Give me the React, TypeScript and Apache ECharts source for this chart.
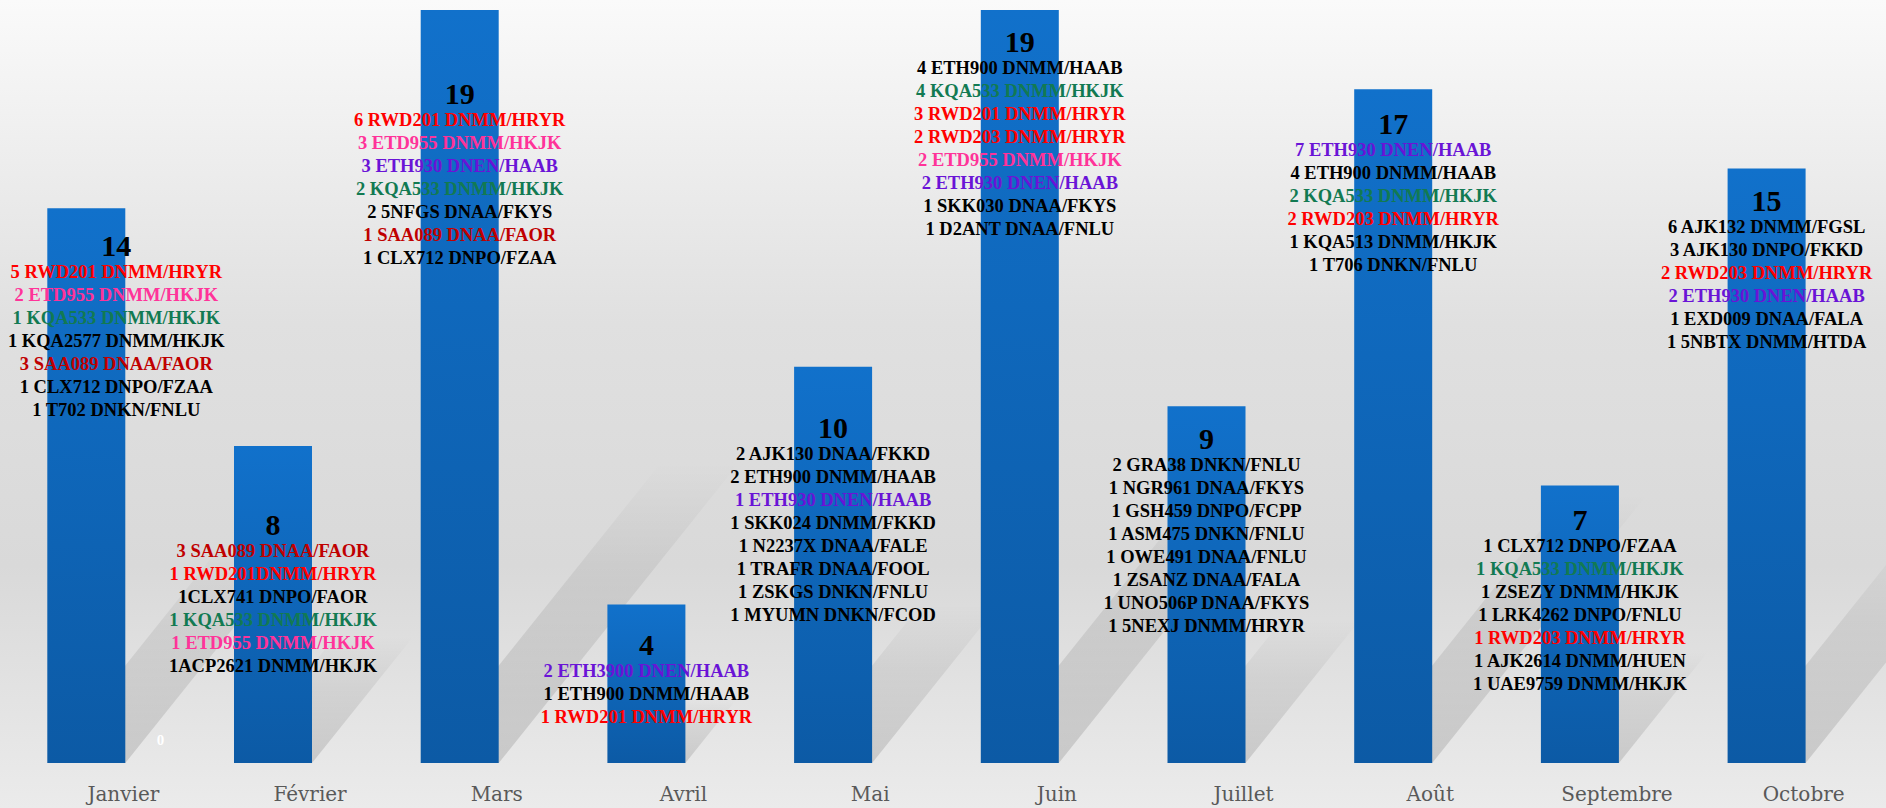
import React, { useEffect, useRef } from "react";
import * as echarts from "echarts";

const categories = ["Janvier", "Février", "Mars", "Avril", "Mai", "Juin", "Juillet", "Août", "Septembre", "Octobre"];
const values = [14, 8, 19, 4, 10, 19, 9, 17, 7, 15];
// second (empty) series: only a 0 for Janvier
const values2 = [0, null, null, null, null, null, null, null, null, null];

const flightsJanvier = ["5 RWD201 DNMM/HRYR", "2 ETD955 DNMM/HKJK", "1 KQA533 DNMM/HKJK", "1 KQA2577 DNMM/HKJK", "3 SAA089 DNAA/FAOR", "1 CLX712 DNPO/FZAA", "1 T702 DNKN/FNLU"];
const flightsFevrier = ["3 SAA089 DNAA/FAOR", "1 RWD201DNMM/HRYR", "1CLX741 DNPO/FAOR", "1 KQA533 DNMM/HKJK", "1 ETD955 DNMM/HKJK", "1ACP2621 DNMM/HKJK"];
const flightsMars = ["6 RWD201 DNMM/HRYR", "3 ETD955 DNMM/HKJK", "3 ETH930 DNEN/HAAB", "2 KQA533 DNMM/HKJK", "2 5NFGS DNAA/FKYS", "1 SAA089 DNAA/FAOR", "1 CLX712 DNPO/FZAA"];
const flightsAvril = ["2 ETH3900 DNEN/HAAB", "1 ETH900 DNMM/HAAB", "1 RWD201 DNMM/HRYR"];
const flightsMai = ["2 AJK130 DNAA/FKKD", "2 ETH900 DNMM/HAAB", "1 ETH930 DNEN/HAAB", "1 SKK024 DNMM/FKKD", "1 N2237X DNAA/FALE", "1 TRAFR DNAA/FOOL", "1 ZSKGS DNKN/FNLU", "1 MYUMN DNKN/FCOD"];
const flightsJuin = ["4 ETH900 DNMM/HAAB", "4 KQA533 DNMM/HKJK", "3 RWD201 DNMM/HRYR", "2 RWD203 DNMM/HRYR", "2 ETD955 DNMM/HKJK", "2 ETH930 DNEN/HAAB", "1 SKK030 DNAA/FKYS", "1 D2ANT DNAA/FNLU"];
const flightsJuillet = ["2 GRA38 DNKN/FNLU", "1 NGR961 DNAA/FKYS", "1 GSH459 DNPO/FCPP", "1 ASM475 DNKN/FNLU", "1 OWE491 DNAA/FNLU", "1 ZSANZ DNAA/FALA", "1 UNO506P DNAA/FKYS", "1 5NEXJ DNMM/HRYR"];
const flightsAout = ["7 ETH930 DNEN/HAAB", "4 ETH900 DNMM/HAAB", "2 KQA533 DNMM/HKJK", "2 RWD203 DNMM/HRYR", "1 KQA513 DNMM/HKJK", "1 T706 DNKN/FNLU"];
const flightsSeptembre = ["1 CLX712 DNPO/FZAA", "1 KQA533 DNMM/HKJK", "1 ZSEZY DNMM/HKJK", "1 LRK4262 DNPO/FNLU", "1 RWD203 DNMM/HRYR", "1 AJK2614 DNMM/HUEN", "1 UAE9759 DNMM/HKJK"];
const flightsOctobre = ["6 AJK132 DNMM/FGSL", "3 AJK130 DNPO/FKKD", "2 RWD203 DNMM/HRYR", "2 ETH930 DNEN/HAAB", "1 EXD009 DNAA/FALA", "1 5NBTX DNMM/HTDA"];

const flights = [flightsJanvier, flightsFevrier, flightsMars, flightsAvril, flightsMai, flightsJuin, flightsJuillet, flightsAout, flightsSeptembre, flightsOctobre];

// layout (not data): label vertical offset from bar top, horizontal nudge
const labelTop = [22, 64, 68, 25, 46, 16, 17, 19, 19, 17];
const labelDx = [30, 0, 0, 0, 0, 0, 0, 0, 0, 0];

const styleKey = (line: string) => {
  if (line.includes("RWD")) return "r";
  if (line.includes("SAA089")) return "dr";
  if (line.includes("ETD955")) return "pk";
  if (line.includes("KQA533")) return "g";
  if (line.includes("ETH930") || line.includes("ETH3900")) return "pu";
  return "k";
};

const lineStyle = (color: string) => ({
  color,
  fontFamily: "'Liberation Serif', 'DejaVu Serif', serif",
  fontWeight: "bold",
  fontSize: 18.5,
  lineHeight: 23,
  align: "center",
});

export default function App() {
  const ref = useRef<HTMLDivElement>(null);
  useEffect(() => {
    document.body.style.margin = "0";
    const chart = echarts.init(ref.current!, null, { renderer: "svg" });
    const W = 1886;
    const H = 808;
    const option: any = {
      animation: false,
      graphic: [
        {
          type: "rect",
          z: -10,
          silent: true,
          shape: { x: 0, y: 0, width: W, height: H },
          style: {
            fill: new echarts.graphic.LinearGradient(0, 0, 0, 1, [
              { offset: 0, color: "#fafafa" },
              { offset: 0.4, color: "#e0e0e0" },
              { offset: 0.7, color: "#d9d9d9" },
              { offset: 1, color: "#ebebeb" },
            ]),
          },
        },
      ],
      grid: { left: 30, right: -11, top: 10, bottom: 45, containLabel: false, outerBoundsMode: "none" },
      xAxis: {
        type: "category",
        data: categories,
        axisLine: { show: false },
        axisTick: { show: false },
        axisLabel: {
          color: "#595959",
          fontFamily: "'DejaVu Serif', serif",
          fontSize: 20,
          margin: 21,
        },
      },
      yAxis: { type: "value", min: 0, max: 19, show: false, splitLine: { show: false } },
      series: [
        {
          type: "custom",
          z: 1,
          silent: true,
          data: values.map((v, i) => [i, v]),
          renderItem: (params: any, api: any) => {
            const i = api.value(0);
            const v = api.value(1);
            const base = api.coord([i, 0]);
            const top = api.coord([i, v]);
            const h = base[1] - top[1];
            const hw = 39;
            const cx = base[0] - 37;
            const sh = h * 0.4;
            const dx = sh * 0.8;
            return {
              type: "polygon",
              shape: {
                points: [
                  [cx - hw, base[1]],
                  [cx + hw, base[1]],
                  [cx + hw + dx, base[1] - sh],
                  [cx - hw + dx, base[1] - sh],
                ],
              },
              style: {
                fill: new echarts.graphic.LinearGradient(0, 1, 0, 0, [
                  { offset: 0, color: "rgba(0,0,0,0.13)" },
                  { offset: 0.6, color: "rgba(0,0,0,0.07)" },
                  { offset: 1, color: "rgba(0,0,0,0)" },
                ]),
              },
            };
          },
        },
        {
          type: "bar",
          z: 2,
          barWidth: 78,
          barGap: "-5%",
          itemStyle: {
            color: new echarts.graphic.LinearGradient(0, 0, 0, 1, [
              { offset: 0, color: "#1171cb" },
              { offset: 1, color: "#0c5aa5" },
            ]),
          },
          data: values.map((v, i) => ({
            value: v,
            label: {
              show: true,
              position: ["50%", labelTop[i]],
              offset: [labelDx[i], 0],
              align: "center",
              verticalAlign: "top",
              formatter: () =>
                ["{v|" + v + "}"].concat(flights[i].map((l) => "{" + styleKey(l) + "|" + l + "}")).join("\n"),
              rich: {
                v: {
                  color: "#000000",
                  fontFamily: "'Liberation Serif', 'DejaVu Serif', serif",
                  fontWeight: "bold",
                  fontSize: 30,
                  lineHeight: 30,
                  align: "center",
                },
                k: lineStyle("#000000"),
                r: lineStyle("#ff0000"),
                dr: lineStyle("#c00000"),
                pk: lineStyle("#ff3399"),
                g: lineStyle("#127a52"),
                pu: lineStyle("#6a14d6"),
              },
            },
          })),
        },
        {
          type: "bar",
          z: 3,
          barWidth: 78,
          barGap: "-5%",
          itemStyle: { color: "#c0504d" },
          label: {
            show: true,
            position: "top",
            distance: 16,
            color: "#ffffff",
            fontFamily: "'Liberation Serif', serif",
            fontWeight: "bold",
            fontSize: 15,
          },
          data: values2,
        },
      ],
    };
    chart.setOption(option);
    return () => chart.dispose();
  }, []);
  return <div ref={ref} style={{ width: "1886px", height: "808px", overflow: "hidden" }} />;
}
